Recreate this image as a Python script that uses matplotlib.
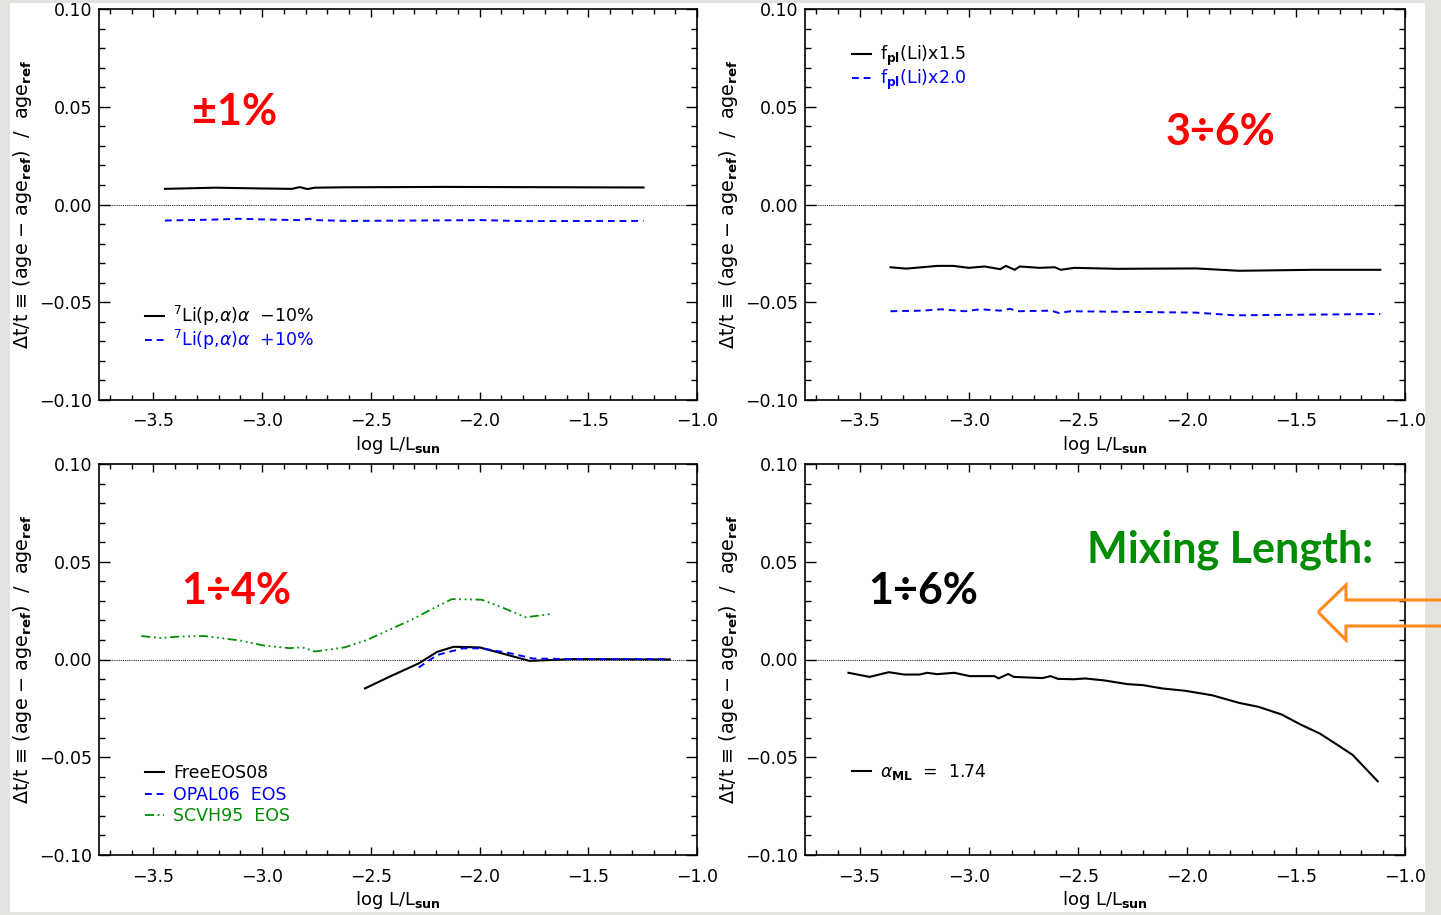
"""Age sensitivity panels: relative age change vs. log L/Lsun for four input-physics tests."""

import matplotlib

matplotlib.use("Agg")
import matplotlib.pyplot as plt
from matplotlib.patches import Polygon, Rectangle
from matplotlib.ticker import MultipleLocator

plt.rcParams["font.family"] = ["DejaVu Sans"]
plt.rcParams["mathtext.fontset"] = "dejavusans"

# --- panel 1: 7Li(p,a)a rate +/-10% ---
li_minus_x = [-3.447, -3.215, -3.004, -2.862, -2.827, -2.792, -2.757, -2.616, -2.158, -1.246]
li_minus_y = [0.0080, 0.0086, 0.0082, 0.0080, 0.0089, 0.0079, 0.0086, 0.0088, 0.0090, 0.0087]
li_plus_x = [-3.447, -3.215, -3.109, -2.968, -2.827, -2.783, -2.757, -2.599, -1.982, -1.806, -1.246]
li_plus_y = [-0.0082, -0.0077, -0.0073, -0.0077, -0.0080, -0.0073, -0.0080, -0.0084, -0.0080, -0.0085, -0.0084]

# --- panel 2: f_pl(Li) scaling ---
fpl15_x = [-3.358, -3.286, -3.143, -3.071, -2.999, -2.927, -2.855, -2.829, -2.789, -2.766,
           -2.676, -2.605, -2.578, -2.515, -2.318, -1.959, -1.761, -1.421, -1.113]
fpl15_y = [-0.0321, -0.0328, -0.0314, -0.0314, -0.0324, -0.0317, -0.0331, -0.0314, -0.0334, -0.0317,
           -0.0324, -0.0321, -0.0334, -0.0324, -0.0329, -0.0327, -0.0339, -0.0334, -0.0334]
fpl20_x = [-3.358, -3.214, -3.125, -3.017, -2.946, -2.855, -2.810, -2.775, -2.622, -2.586,
           -2.533, -1.959, -1.780, -1.113]
fpl20_y = [-0.0546, -0.0543, -0.0536, -0.0546, -0.0536, -0.0543, -0.0534, -0.0546, -0.0543, -0.0555,
           -0.0546, -0.0553, -0.0567, -0.0560]

# --- panel 3: equation of state ---
free_x = [-2.527, -2.416, -2.280, -2.195, -2.119, -2.000, -1.906, -1.771, -1.567, -1.125]
free_y = [-0.0148, -0.0089, -0.0020, 0.0039, 0.0065, 0.0062, 0.0034, -0.0007, 0.0002, 0.0000]
opal_x = [-2.280, -2.195, -2.077, -1.991, -1.855, -1.754, -1.567, -1.125]
opal_y = [-0.0041, 0.0023, 0.0057, 0.0057, 0.0031, 0.0005, 0.0002, 0.0002]
scvh_x = [-3.555, -3.470, -3.385, -3.266, -3.164, -3.096, -2.994, -2.875, -2.816, -2.756,
          -2.620, -2.518, -2.416, -2.314, -2.212, -2.127, -1.991, -1.906, -1.788, -1.669]
scvh_y = [0.0120, 0.0110, 0.0117, 0.0120, 0.0106, 0.0096, 0.0072, 0.0058, 0.0062, 0.0041,
          0.0062, 0.0100, 0.0151, 0.0203, 0.0262, 0.0309, 0.0306, 0.0271, 0.0216, 0.0233]

# --- panel 4: mixing length ---
aml_x = [-3.551, -3.454, -3.366, -3.295, -3.225, -3.190, -3.145, -3.066, -2.995, -2.881,
         -2.863, -2.819, -2.793, -2.661, -2.625, -2.590, -2.519, -2.466, -2.378, -2.272,
         -2.202, -2.113, -2.007, -1.884, -1.760, -1.672, -1.566, -1.478, -1.390, -1.319,
         -1.240, -1.125]
aml_y = [-0.0068, -0.0089, -0.0065, -0.0077, -0.0077, -0.0068, -0.0075, -0.0068, -0.0085, -0.0085,
         -0.0097, -0.0074, -0.0089, -0.0095, -0.0085, -0.0099, -0.0101, -0.0097, -0.0107, -0.0126,
         -0.0131, -0.0148, -0.0160, -0.0183, -0.0222, -0.0242, -0.0281, -0.0333, -0.0379, -0.0430,
         -0.0488, -0.0623]

YLABEL = r"Δt/t ≡ (age − age$_{\mathbf{ref}}$)  /  age$_{\mathbf{ref}}$"
XLABEL = r"log L/L$_{\mathbf{sun}}$"

BLUE = "#0000ff"
GREEN = "#008c00"
DASH = (3.5, 2.5)
DASHDOT3 = (5, 2, 1, 2, 1, 2, 1, 2)

W, H = 1441, 915
fig = plt.figure(figsize=(W / 100, H / 100), dpi=100)
fig.patch.set_facecolor("#e3e3e0")
fig.add_artist(Rectangle((10 / W, 1 - 912 / H), 1415 / W, 909 / H,
                         transform=fig.transFigure, facecolor="white", edgecolor="none", zorder=0))


def setup_axes(rect):
    ax = fig.add_axes(rect)
    ax.set_xlim(-3.75, -1.0)
    ax.set_ylim(-0.10, 0.10)
    ax.xaxis.set_major_locator(MultipleLocator(0.5))
    ax.xaxis.set_minor_locator(MultipleLocator(0.1))
    ax.yaxis.set_major_locator(MultipleLocator(0.05))
    ax.yaxis.set_minor_locator(MultipleLocator(0.01))
    ax.tick_params(which="both", direction="in", top=True, right=True, labelsize=12.5, width=1.0)
    ax.tick_params(axis="y", which="major", length=8, pad=5)
    ax.tick_params(axis="y", which="minor", length=4.5)
    ax.tick_params(axis="x", which="major", length=6, pad=9)
    ax.tick_params(axis="x", which="minor", length=3.5)
    for sp in ax.spines.values():
        sp.set_linewidth(1.2)
    ax.axhline(0.0, color="black", lw=0.7, dashes=(1, 1.2))
    ax.set_xlabel(XLABEL, fontsize=13)
    ax.set_ylabel(YLABEL, fontsize=13.8)
    ax.xaxis.set_label_coords(0.5, -0.088)
    ax.yaxis.set_label_coords(-0.108, 0.5)
    return ax


def add_legend(ax, loc, anchor, spacing):
    ax.legend(loc=loc, bbox_to_anchor=anchor, frameon=False, fontsize=12.5,
              handlelength=1.1, handletextpad=0.5, labelspacing=spacing,
              borderpad=0, borderaxespad=0, labelcolor="linecolor")


big = dict(fontsize=31, fontweight="bold", family=["Lato", "DejaVu Sans"],
           ha="center", va="center")

ax1 = setup_axes([99 / W, 1 - 400 / H, 598 / W, 391 / H])
ax1.plot(li_minus_x, li_minus_y, color="black", lw=1.5,
         label=r"$^{7}$Li(p,$\alpha$)$\alpha$  −10%")
ax1.plot(li_plus_x, li_plus_y, color=BLUE, lw=1.4, dashes=DASH,
         label=r"$^{7}$Li(p,$\alpha$)$\alpha$  +10%")
add_legend(ax1, "lower left", (0.077, 0.122), 0.02)
ax1.text(0.226, 0.737, "±1%", color="#ff0000", transform=ax1.transAxes, **big)

ax2 = setup_axes([805 / W, 1 - 400 / H, 600 / W, 391 / H])
ax2.plot(fpl15_x, fpl15_y, color="black", lw=1.5, label=r"f$_{\mathbf{pl}}$(Li)x1.5")
ax2.plot(fpl20_x, fpl20_y, color=BLUE, lw=1.4, dashes=DASH, label=r"f$_{\mathbf{pl}}$(Li)x2.0")
add_legend(ax2, "upper left", (0.078, 0.91), -0.05)
ax2.text(0.693, 0.685, "3÷6%", color="#ff0000", transform=ax2.transAxes, **big)

ax3 = setup_axes([99 / W, 1 - 855 / H, 598 / W, 391 / H])
ax3.plot(free_x, free_y, color="black", lw=1.5, label="FreeEOS08")
ax3.plot(opal_x, opal_y, color=BLUE, lw=1.4, dashes=DASH, label="OPAL06  EOS")
ax3.plot(scvh_x, scvh_y, color=GREEN, lw=1.3, dashes=DASHDOT3, label="SCVH95  EOS")
add_legend(ax3, "lower left", (0.077, 0.076), 0.2)
ax3.text(0.229, 0.675, "1÷4%", color="#ff0000", transform=ax3.transAxes, **big)

ax4 = setup_axes([805 / W, 1 - 855 / H, 600 / W, 391 / H])
ax4.plot(aml_x, aml_y, color="black", lw=1.5, label=r"$\alpha_{\mathbf{ML}}$  =  1.74")
add_legend(ax4, "lower left", (0.078, 0.186), 0.1)
ax4.text(0.197, 0.675, "1÷6%", color="black", transform=ax4.transAxes, **big)
ax4.text(0.708, 0.780, "Mixing Length:", color=GREEN, transform=ax4.transAxes, **big)

# orange outline arrow pointing at the mixing-length panel
arrow_px = [(1318, 612), (1346, 585), (1346, 600), (1450, 600),
            (1450, 626), (1346, 626), (1346, 640)]
fig.add_artist(Polygon([(x / W, 1 - y / H) for x, y in arrow_px], closed=True,
                       transform=fig.transFigure, fill=False, edgecolor="#ff8a1e",
                       lw=2.2, clip_on=False, zorder=5))

fig.savefig("out.png", dpi=100, facecolor=fig.get_facecolor())
